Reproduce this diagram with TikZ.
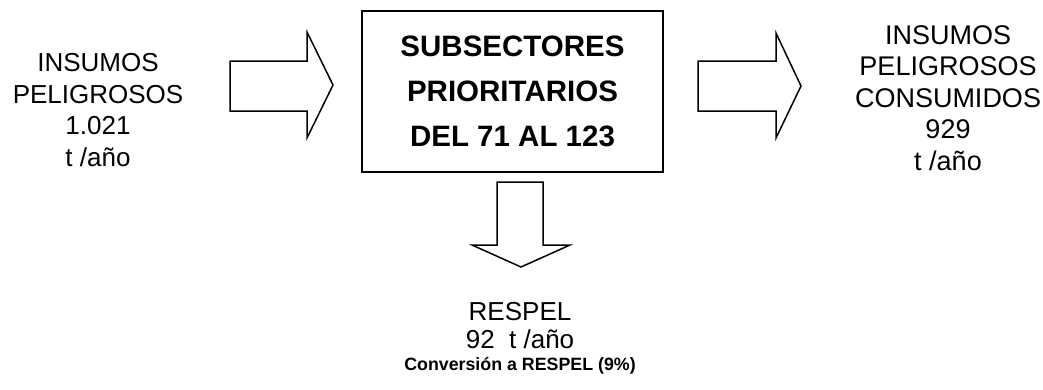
\documentclass[tikz,border=0pt]{standalone}
\usepackage{fontspec}
\setmainfont{Liberation Sans}
\usetikzlibrary{positioning}
\tikzset{
  txt/.style={align=center, inner sep=0pt, font=\fontsize{26}{31.5}\selectfont},
  subbox/.style={draw, line width=1.5pt, minimum width=301pt, minimum height=161pt,
    align=center, font=\fontsize{29.5}{45}\selectfont\bfseries},
  blockarrow/.style={draw, line width=1.5pt, line join=miter}
}
\begin{document}
\begin{tikzpicture}[x=1pt, y=-1pt]
 			\useasboundingbox (0,0) rectangle (1043,389);
 			
 			\node[txt] (entrada) at (98,110) {INSUMOS\\PELIGROSOS\\1.021\\t /año};
 			\node[subbox] (sector) at (512.5,91.5) {SUBSECTORES\\PRIORITARIOS\\DEL 71 AL 123};
 			\node[txt, font=\fontsize{27}{31.5}\selectfont] (salida) at (948,98) {INSUMOS\\PELIGROSOS\\CONSUMIDOS\\929\\t /año};
 			\node[txt, font=\fontsize{26}{28}\selectfont] (respel) at (520,326) {RESPEL\\92~~t /año};
 			\node[txt, font=\fontsize{17.8}{20}\selectfont\bfseries, below=8pt of respel] (conv) {Conversión a RESPEL (9\%)};
 			
 			% flechas de bloque
 			\draw[blockarrow] (230,61) -- (307,61) -- (307,32) -- (333,85) -- (307,138) -- (307,111) -- (230,111) -- cycle;
 			\draw[blockarrow] (698,61) -- (776,61) -- (776,33) -- (801,86) -- (776,138) -- (776,111) -- (698,111) -- cycle;
 			\draw[blockarrow] (497,182) -- (543,182) -- (543,245) -- (570,245) -- (521,267) -- (472,245) -- (497,245) -- cycle;
 		\end{tikzpicture}
\end{document}
